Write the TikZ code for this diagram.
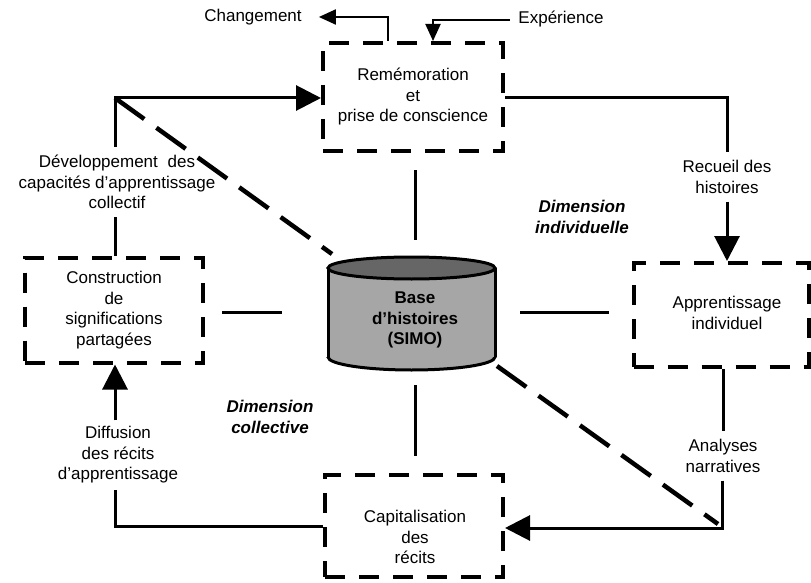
\documentclass[tikz,border=0pt]{standalone}
\usepackage{fontspec}
\setmainfont{Liberation Sans}
\usetikzlibrary{arrows.meta}
\begin{document}
\begin{tikzpicture}[x=1pt,y=-1pt,
  txt/.style={font=\fontsize{17}{20.5}\selectfont, align=center, inner sep=3pt},
  dimtxt/.style={font=\fontsize{17}{20.5}\selectfont\bfseries\itshape, align=center, inner sep=3pt},
  dbox/.style={draw, line width=4pt, dash pattern=on 20pt off 14pt, inner sep=0pt,
    font=\fontsize{17}{20.5}\selectfont, align=center},
  conn/.style={line width=3pt},
  thinconn/.style={line width=2pt},
  bigtip/.style={-{Triangle[length=25pt,width=25pt]}},
  smalltip/.style={-{Triangle[length=17pt,width=15pt]}},
  diag/.style={line width=4.5pt, dash pattern=on 36pt off 15pt}
]
\useasboundingbox (0,0) rectangle (811,583);

% boxes
\node[dbox, minimum width=180pt, minimum height=108pt] (rem) at (413,97)
  {Remémoration\\et\\prise de conscience};
\node[dbox, minimum width=178pt, minimum height=105pt] (constr) at (114,310)
  {Construction\\de\\significations\\partagées};
\node[dbox, minimum width=175pt, minimum height=104pt] (appr) at (721,315) {};
\node[txt] (apprtxt) at (727,313) {Apprentissage\\individuel};
\node[dbox, minimum width=178pt, minimum height=102pt] (cap) at (414,526) {};
\node[txt] (captxt) at (415,537) {Capitalisation\\des\\récits};

% cylinder
\node[inner sep=0pt, minimum width=167pt, minimum height=112pt] (cyl) at (411.5,314) {};
\fill[black!35] (328,268) rectangle (495,357);
\fill[black!35] (411.5,357) ellipse[x radius=83.5pt, y radius=13pt];
\begin{scope}
  \clip (318,357) rectangle (505,385);
  \draw[line width=3pt] (411.5,357) ellipse[x radius=83.5pt, y radius=13pt];
\end{scope}
\draw[line width=3pt] (328,268) -- (328,357) (495,268) -- (495,357);
\filldraw[fill=black!60, line width=3pt] (411.5,268) ellipse[x radius=83.5pt, y radius=11pt];
\node[txt, font=\fontsize{17}{20.5}\selectfont\bfseries] (cyltxt) at (415,320) {Base\\d’histoires\\(SIMO)};

% labels
\node[txt] (chg) at (253,17) {Changement};
\node[txt] (exp) at (561,19) {Expérience};
\node[txt, inner sep=8pt] (dev) at (117,182) {Développement\hspace{0.3em} des\\capacités d’apprentissage\\collectif};
\node[txt, inner sep=8pt] (rec) at (727,177) {Recueil des\\histoires};
\node[txt, inner sep=8pt] (ana) at (723,456) {Analyses\\narratives};
\node[txt, inner sep=6pt] (dif) at (118,455) {Diffusion\\des récits\\d’apprentissage};
\node[dimtxt] (dimind) at (582,217) {Dimension\\individuelle};
\node[dimtxt] (dimcol) at (270,417) {Dimension\\collective};

% corner coordinates
\coordinate (cTL) at (115,98);
\coordinate (cTR) at (727,98);
\coordinate (cBR) at (722,528);
\coordinate (cBL) at (115,526);
\coordinate (chgC) at (388,17);
\coordinate (expC) at (433,20);
\coordinate (expS) at (510,20);
\coordinate (cylTL) at (332,254);
\coordinate (cylBR) at (497,366);
\coordinate (diagEnd) at (718,524);

% top arrows
\draw[thinconn, smalltip, shorten >=14pt] (rem.north -| chgC) -- (chgC) -- (chg.east);
\draw[thinconn, smalltip] (expS) -- (expC) -- (rem.north -| expC);

% left loop to top
\draw[conn, bigtip] (dev.north -| cTL) -- (cTL) -- (rem.west |- cTL);
\draw[conn] (constr.north -| cTL) -- (dev.south -| cTL);
% right loop
\draw[conn] (rem.east |- cTR) -- (cTR) -- (rec.north -| cTR);
\draw[conn, bigtip] (rec.south -| cTR) -- (appr.north -| cTR);
% bottom right
\draw[conn] (appr.south -| ana) -- (ana.north);
\draw[conn, bigtip] (ana.south -| cBR) -- (cBR) -- (cap.east |- cBR);
% bottom left
\draw[conn] (cap.west) -- (cBL) -- (dif.south -| cBL);
\draw[conn, bigtip] (dif.north -| cBL) -- (constr.south -| cBL);

% spokes to the cylinder
\draw[conn, shorten <=17pt, shorten >=18pt] (rem.south -| cyltxt) -- (cyl.north -| cyltxt);
\draw[conn, shorten <=15pt, shorten >=17pt] (cyl.south -| cyltxt) -- (cap.north -| cyltxt);
\draw[conn, shorten <=17pt, shorten >=46pt] (constr.east |- 0,312) -- (cyl.west |- 0,312);
\draw[conn, shorten <=25pt, shorten >=23pt] (cyl.east |- 0,312) -- (appr.west |- 0,312);

% diagonal dashed line
\draw[diag] (cTL) -- (cylTL);
\draw[diag] (cylBR) -- (diagEnd);
\end{tikzpicture}
\end{document}
